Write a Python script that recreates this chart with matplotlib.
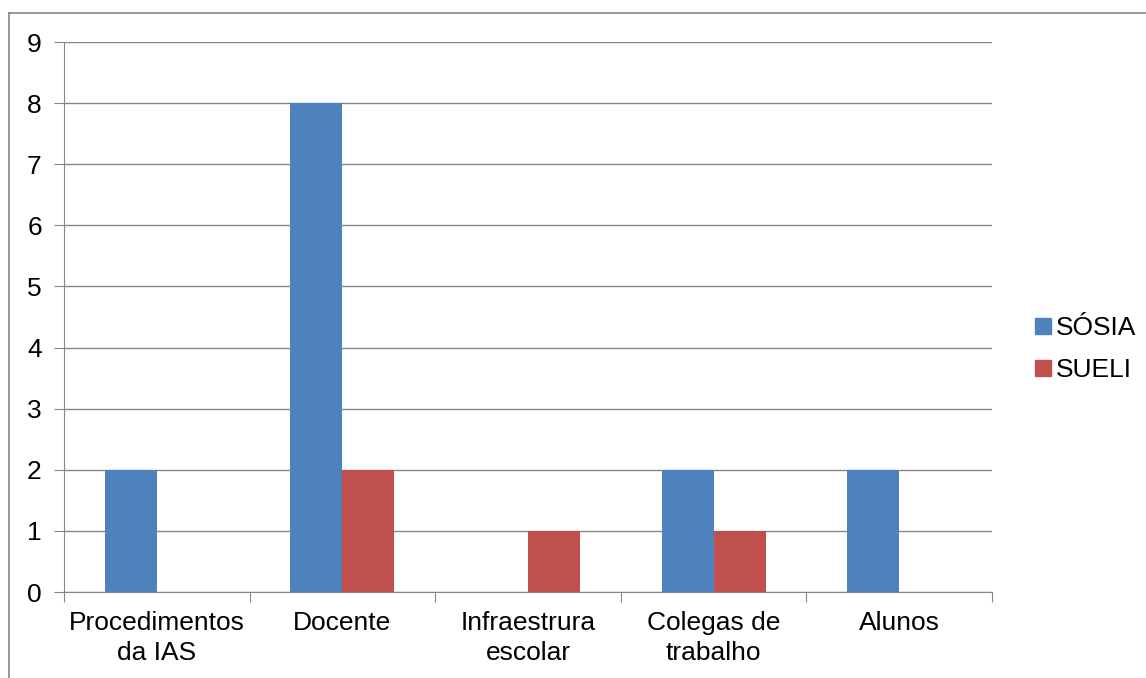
import matplotlib
matplotlib.use("Agg")
import matplotlib.pyplot as plt
from matplotlib.lines import Line2D
import numpy as np

categories = ["Procedimentos\nda IAS", "Docente", "Infraestrura\nescolar", "Colegas de\ntrabalho", "Alunos"]
sosia = [2, 8, 0, 2, 2]
sueli = [0, 2, 1, 1, 0]
series_names = ["SÓSIA", "SUELI"]
colors = ["#4F81BD", "#C0504D"]

plt.rcParams['font.family'] = ['Liberation Sans', 'DejaVu Sans']
W, H = 1146, 678
fig = plt.figure(figsize=(W/100, H/100), dpi=100)
ax = fig.add_axes([64/W, 1-592/H, (992-64)/W, (592-42)/H])

x = np.arange(len(categories))
bw = 0.28
ax.bar(x - bw/2, sosia, bw, color=colors[0], label=series_names[0], zorder=3)
ax.bar(x + bw/2, sueli, bw, color=colors[1], label=series_names[1], zorder=3)

ax.set_xlim(-0.5, len(categories) - 0.5)
ax.set_ylim(0, 9)
ax.set_yticks(range(0, 10))
grid_c = "#868686"
ax.yaxis.grid(True, color=grid_c, linewidth=1.0, zorder=0)
ax.set_axisbelow(True)
for s in ["top", "right"]:
    ax.spines[s].set_visible(False)
ax.spines["left"].set_color(grid_c)
ax.spines["bottom"].set_color(grid_c)
ax.tick_params(axis='y', length=7, color=grid_c, labelsize=19, pad=9)

ax.set_xticks(np.arange(-0.5, len(categories)), minor=False)
ax.set_xticklabels([""] * (len(categories) + 1))
ax.tick_params(axis='x', which='major', length=7, color=grid_c)
ax.set_xticks(x, minor=True)
ax.set_xticklabels(categories, minor=True, fontsize=19, linespacing=1.3)
ax.tick_params(axis='x', which='minor', length=0, pad=14)

handles = [Line2D([0], [0], marker='s', linestyle='none', markersize=11,
                  markerfacecolor=c, markeredgecolor=c) for c in colors]
fig.legend(handles, series_names, loc='center left',
           bbox_to_anchor=(1022/W, 1-349/H), frameon=False, fontsize=19,
           handlelength=0.6, handletextpad=0.2, labelspacing=0.7, borderpad=0)

fig.add_artist(Line2D([8.5/W, 8.5/W], [0, 1-12.5/H], transform=fig.transFigure, color=grid_c, lw=1.2))
fig.add_artist(Line2D([8.5/W, 1], [1-12.5/H, 1-12.5/H], transform=fig.transFigure, color=grid_c, lw=1.2))

fig.savefig("out.png", dpi=100)
